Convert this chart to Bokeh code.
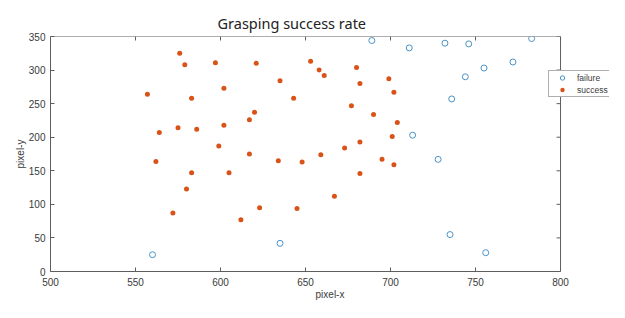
from bokeh.plotting import figure
from bokeh.models import Range1d, FixedTicker, Legend, LegendItem, Span
from bokeh.embed import file_html
from bokeh.resources import INLINE

# failure points
fail_x = [560, 635, 689, 711, 732, 746, 783, 772, 755, 744, 736, 713, 728, 735, 756]
fail_y = [25, 42, 344, 333, 340, 339, 347, 312, 303, 290, 257, 203, 167, 55, 28]

# success points
succ_x = [576, 579, 597, 621, 653, 658, 661, 557, 602, 583, 635, 643, 620, 617, 564,
          575, 586, 602, 599, 617, 562, 583, 605, 580, 572, 612, 623, 645, 634, 648,
          659, 695, 702, 682, 667, 673, 680, 682, 699, 702, 677, 690, 704, 701, 682]
succ_y = [325, 308, 311, 310, 313, 300, 292, 264, 273, 258, 284, 258, 237, 226, 207,
          214, 212, 218, 187, 175, 164, 147, 147, 123, 87, 77, 95, 94, 165, 163,
          174, 167, 159, 146, 112, 184, 304, 280, 287, 267, 247, 234, 222, 201, 193]

x_ticks = [500, 550, 600, 650, 700, 750, 800]
y_ticks = [0, 50, 100, 150, 200, 250, 300, 350]
x_lo, x_hi = 500, 800
y_lo, y_hi = 0, 350

AX = "#5e5e5e"
TXT = "#3a3a3a"

# the frame runs a little past x=800 so that the legend, which overlaps the
# right edge of the axes box, is not clipped
p = figure(width=609, height=302, output_backend="svg", toolbar_location=None,
           x_range=Range1d(x_lo, 828.8), y_range=Range1d(y_lo, y_hi),
           min_border_left=50, min_border_right=0, min_border_top=36, min_border_bottom=30,
           title="Grasping success rate")

p.title.align = "left"
p.title.offset = 167
p.title.standoff = 8
p.title.text_font = "Noto Sans"
p.title.text_font_size = "14.5px"
p.title.text_font_style = "normal"
p.title.text_color = "#222222"

p.grid.visible = False
p.outline_line_color = None
p.background_fill_color = "white"

p.below[0].axis_label = "pixel-x"
p.left[0].axis_label = "pixel-y"

for ax in p.xaxis:
    ax.ticker = FixedTicker(ticks=x_ticks)
    ax.bounds = (x_lo, x_hi)
for ax in p.yaxis:
    ax.ticker = FixedTicker(ticks=y_ticks)

for ax in p.xaxis + p.yaxis:
    ax.axis_line_color = AX
    ax.major_tick_line_color = AX
    ax.major_tick_in = 4
    ax.major_tick_out = 0
    ax.minor_tick_line_color = None
    ax.major_label_text_font = "Liberation Sans"
    ax.major_label_text_font_size = "10px"
    ax.major_label_text_color = TXT
    ax.axis_label_text_font = "Liberation Sans"
    ax.axis_label_text_font_size = "10px"
    ax.axis_label_text_font_style = "normal"
    ax.axis_label_text_color = TXT

p.below[0].major_label_standoff = 6
p.below[0].axis_label_standoff = 0
p.left[0].major_label_standoff = 5
p.left[0].axis_label_standoff = 0

# top and right edges of the axes box, with inward ticks
p.segment(x0=[x_lo], y0=[y_hi], x1=[x_hi], y1=[y_hi], line_color=AX, line_width=1)
p.add_layout(Span(location=x_hi, dimension="height", line_color=AX, line_width=1))
p.ray(x=[x_hi] * len(y_ticks), y=y_ticks, length=4, length_units="screen",
      angle=180, angle_units="deg", line_color=AX, line_width=1)
p.ray(x=x_ticks, y=[y_hi] * len(x_ticks), length=4, length_units="screen",
      angle=-90, angle_units="deg", line_color=AX, line_width=1)

r_fail = p.scatter(fail_x, fail_y, marker="circle", size=6, fill_color=None,
                   line_color="#4a93c6", line_width=1)
r_succ = p.scatter(succ_x, succ_y, marker="circle", size=5, fill_color="#D95319",
                   line_color=None)

legend = Legend(items=[LegendItem(label="failure", renderers=[r_fail]),
                       LegendItem(label="success", renderers=[r_succ])],
                location=(498, 174))
legend.border_line_color = AX
legend.background_fill_color = "white"
legend.background_fill_alpha = 1
legend.label_text_font = "Liberation Sans"
legend.label_text_font_size = "8.5px"
legend.label_text_color = TXT
legend.label_height = 11
legend.glyph_height = 11
legend.glyph_width = 24
legend.label_standoff = 3
legend.padding = 1
legend.spacing = 1
legend.margin = 0
legend.label_text_baseline = "middle"
p.add_layout(legend, "center")

open("out.html", "w").write(file_html(p, INLINE))
